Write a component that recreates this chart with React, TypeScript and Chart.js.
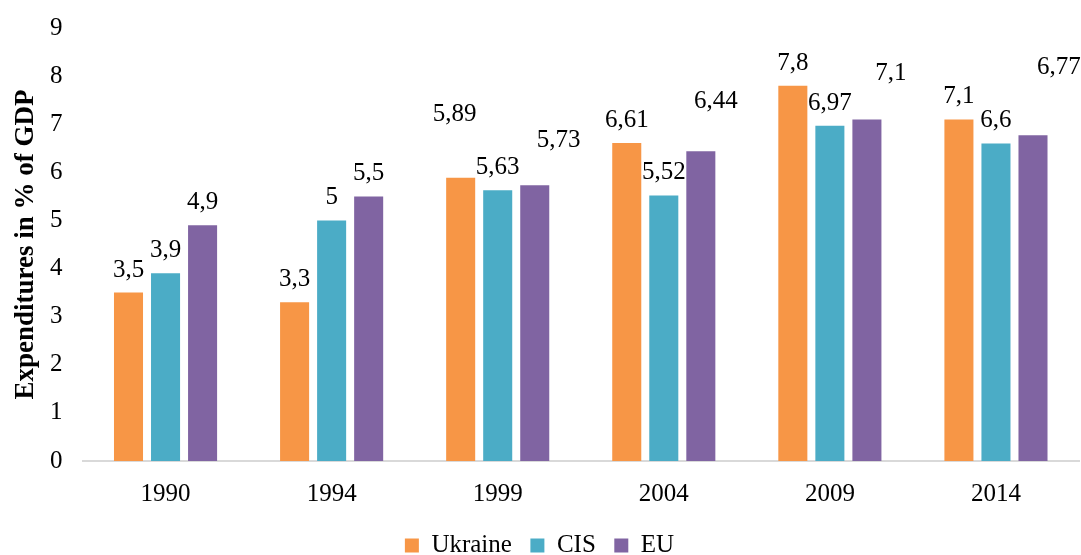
import React, { useEffect, useRef } from "react";
import { Chart, registerables } from "chart.js";

Chart.register(...registerables);

const years = ["1990", "1994", "1999", "2004", "2009", "2014"];
const ukraine = [3.5, 3.3, 5.89, 6.61, 7.8, 7.1];
const cis = [3.9, 5, 5.63, 5.52, 6.97, 6.6];
const eu = [4.9, 5.5, 5.73, 6.44, 7.1, 6.77];
const seriesNames = ["Ukraine", "CIS", "EU"];
const yTicks = [0, 1, 2, 3, 4, 5, 6, 7, 8, 9];

const FONT = "'Liberation Serif', 'Times New Roman', serif";

// label nudges [dx, dy] per series/point (manual label placement of the original)
const labelNudge: number[][][] = [
  [[0, 0], [0, 0], [-6, -41], [0, 0], [0, 0], [0, 0]],
  [[0, 0], [0, 0], [0, 0], [0, 0], [0, 0], [0, 0]],
  [[0, 0], [0, 0], [24, -22], [15, -27], [24, -23], [26, -45]],
];

const valueLabels = {
  id: "valueLabels",
  afterDatasetsDraw(chart: any) {
    const ctx = chart.ctx;
    ctx.save();
    ctx.font = `25px ${FONT}`;
    ctx.fillStyle = "#000";
    ctx.textAlign = "center";
    ctx.textBaseline = "alphabetic";
    chart.data.datasets.forEach((ds: any, di: number) => {
      const meta = chart.getDatasetMeta(di);
      meta.data.forEach((bar: any, i: number) => {
        const v = ds.data[i];
        const [dx, dy] = labelNudge[di][i];
        ctx.fillText(String(v).replace(".", ","), bar.x + dx, bar.y - 16 + dy);
      });
    });
    ctx.restore();
  },
};

export default function App() {
  const ref = useRef<HTMLCanvasElement>(null);
  useEffect(() => {
    if (!ref.current) return;
    const chart = new Chart(ref.current, {
      type: "bar",
      data: {
        labels: years,
        datasets: [
          { label: seriesNames[0], data: ukraine, backgroundColor: "#F79646" },
          { label: seriesNames[1], data: cis, backgroundColor: "#4BACC6" },
          { label: seriesNames[2], data: eu, backgroundColor: "#8064A2" },
        ],
      },
      options: {
        responsive: true,
        maintainAspectRatio: false,
        animation: false,
        datasets: {
          bar: { categoryPercentage: 0.669, barPercentage: 0.784 },
        },
        layout: { padding: { top: 28, right: 2, left: 0, bottom: 0 } },
        plugins: {
          tooltip: { enabled: false },
          legend: {
            position: "bottom",
            labels: {
              font: { family: FONT, size: 25 },
              color: "#000",
              boxWidth: 14,
              boxHeight: 14,
              padding: 6,
              generateLabels: (chart: any) => {
                const items = Chart.defaults.plugins.legend.labels.generateLabels(chart);
                return items.map((it: any, i: number) => ({
                  ...it,
                  text: i < items.length - 1 ? it.text + "\u00a0\u00a0" : it.text,
                  lineWidth: 0,
                }));
              },
            },
          },
        },
        scales: {
          x: {
            grid: { display: false, drawTicks: false },
            border: { display: true, color: "#d9d9d9", width: 2 },
            ticks: { font: { family: FONT, size: 25 }, color: "#000", padding: 18 },
          },
          y: {
            min: 0,
            max: 9,
            afterFit: (s: any) => {
              s.width = 82.5;
              s.paddingTop = 10;
              s.paddingBottom = 10;
            },
            afterBuildTicks: (s: any) => {
              s.ticks = yTicks.map((v) => ({ value: v }));
            },
            grid: { display: false, drawTicks: false },
            border: { display: false },
            ticks: { font: { family: FONT, size: 25 }, color: "#000", padding: 20 },
            title: {
              display: true,
              text: "Expenditures in % of GDP",
              font: { family: FONT, size: 27, weight: "bold" },
              color: "#000",
              padding: { top: 10, bottom: 0 },
            },
          },
        },
      },
      plugins: [valueLabels],
    });
    return () => chart.destroy();
  }, []);
  return (
    <div style={{ position: "fixed", left: 0, top: 0, width: 1081, height: 568 }}>
      <canvas ref={ref} />
    </div>
  );
}
